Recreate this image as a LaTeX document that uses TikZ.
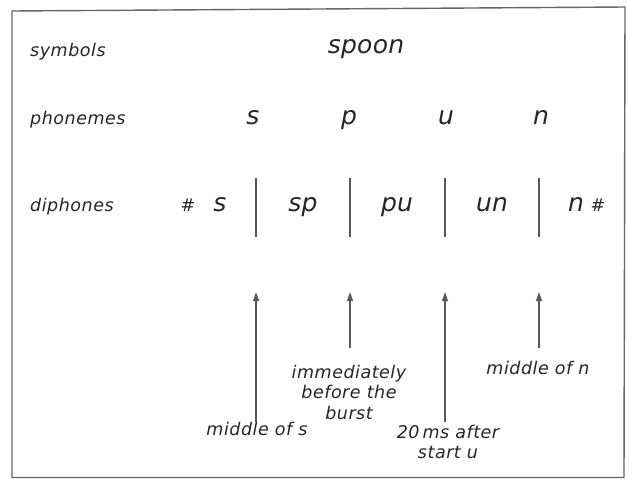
\documentclass[tikz,border=0pt]{standalone}
\usepackage{fontspec}
\setmainfont{DejaVu Sans}
\newfontfamily\labfont[LetterSpace=3]{DejaVu Sans}
\newfontfamily\bigfont[LetterSpace=1]{DejaVu Sans}
\usetikzlibrary{arrows.meta}
\tikzset{
  lab/.style={font=\labfont\itshape\fontsize{17.5}{20.5}\selectfont, text=black!85, inner sep=0pt, align=center},
  big/.style={font=\bigfont\itshape\fontsize{25}{28}\selectfont, text=black!85, inner sep=0pt},
  frameline/.style={draw=black!60, line width=1.4pt},
  bar/.style={draw=black!65, line width=1.3pt},
  arr/.style={draw=black!65, line width=1.3pt, -{Triangle[length=9pt,width=6pt]}}
}
\begin{document}
\begin{tikzpicture}[x=1pt,y=-1pt]
\useasboundingbox (0,0) rectangle (629,479);
\fill[white] (0,0) rectangle (629,479);
% frame
\draw[frameline] (12,11) -- (625,7) -- (624,477.5) -- (12,477.5) -- cycle;
% row labels
\node[lab, anchor=mid west] (symbols) at (30,54) {symbols};
\node[lab, anchor=mid west] (phonemes) at (30,122) {phonemes};
\node[lab, anchor=mid west] (diphones) at (30,209) {diphones};
% symbols row
\node[big, anchor=mid] (spoon) at (366,51) {spoon};
% phonemes row
\node[big, anchor=mid] (ps) at (253,122) {s};
\node[big, anchor=mid] (pp) at (349,122) {p};
\node[big, anchor=mid] (pu) at (446,122) {u};
\node[big, anchor=mid] (pn) at (541,122) {n};
% diphones row
\node[lab, anchor=mid] (h1) at (188,209) {\#};
\node[big, anchor=mid] (ds) at (220,209) {s};
\node[big, anchor=mid] (dsp) at (303,209) {sp};
\node[big, anchor=mid] (dpu) at (397,209) {pu};
\node[big, anchor=mid] (dun) at (492,209) {un};
\node[big, anchor=mid] (dn) at (576,209) {n};
\node[lab, anchor=mid] (h2) at (598,209) {\#};
% boundary bars
\coordinate (b1t) at (256,178); \coordinate (b1b) at (256,237);
\coordinate (b2t) at (350,178); \coordinate (b2b) at (350,237);
\coordinate (b3t) at (445,178); \coordinate (b3b) at (445,237);
\coordinate (b4t) at (539,178); \coordinate (b4b) at (539,237);
\draw[bar] (b1t) -- (b1b);
\draw[bar] (b2t) -- (b2b);
\draw[bar] (b3t) -- (b3b);
\draw[bar] (b4t) -- (b4b);
% arrows
\coordinate (a1s) at (256,422); \coordinate (a1e) at (256,292);
\coordinate (a2s) at (350,348); \coordinate (a2e) at (350,292);
\coordinate (a3s) at (445,422); \coordinate (a3e) at (445,292);
\coordinate (a4s) at (539,348); \coordinate (a4e) at (539,292);
\draw[arr] (a1s) -- (a1e);
\draw[arr] (a2s) -- (a2e);
\draw[arr] (a3s) -- (a3e);
\draw[arr] (a4s) -- (a4e);
% annotations
\node[lab, anchor=center] (l2) at (349,392) {immediately\\before the\\burst};
\node[lab, anchor=mid] (l4) at (538,372) {middle of n};
\node[lab, anchor=mid] (l1) at (257,433) {middle of s};
\node[lab, anchor=center] (l3) at (448,442) {20\,ms after\\start u};
\end{tikzpicture}
\end{document}
